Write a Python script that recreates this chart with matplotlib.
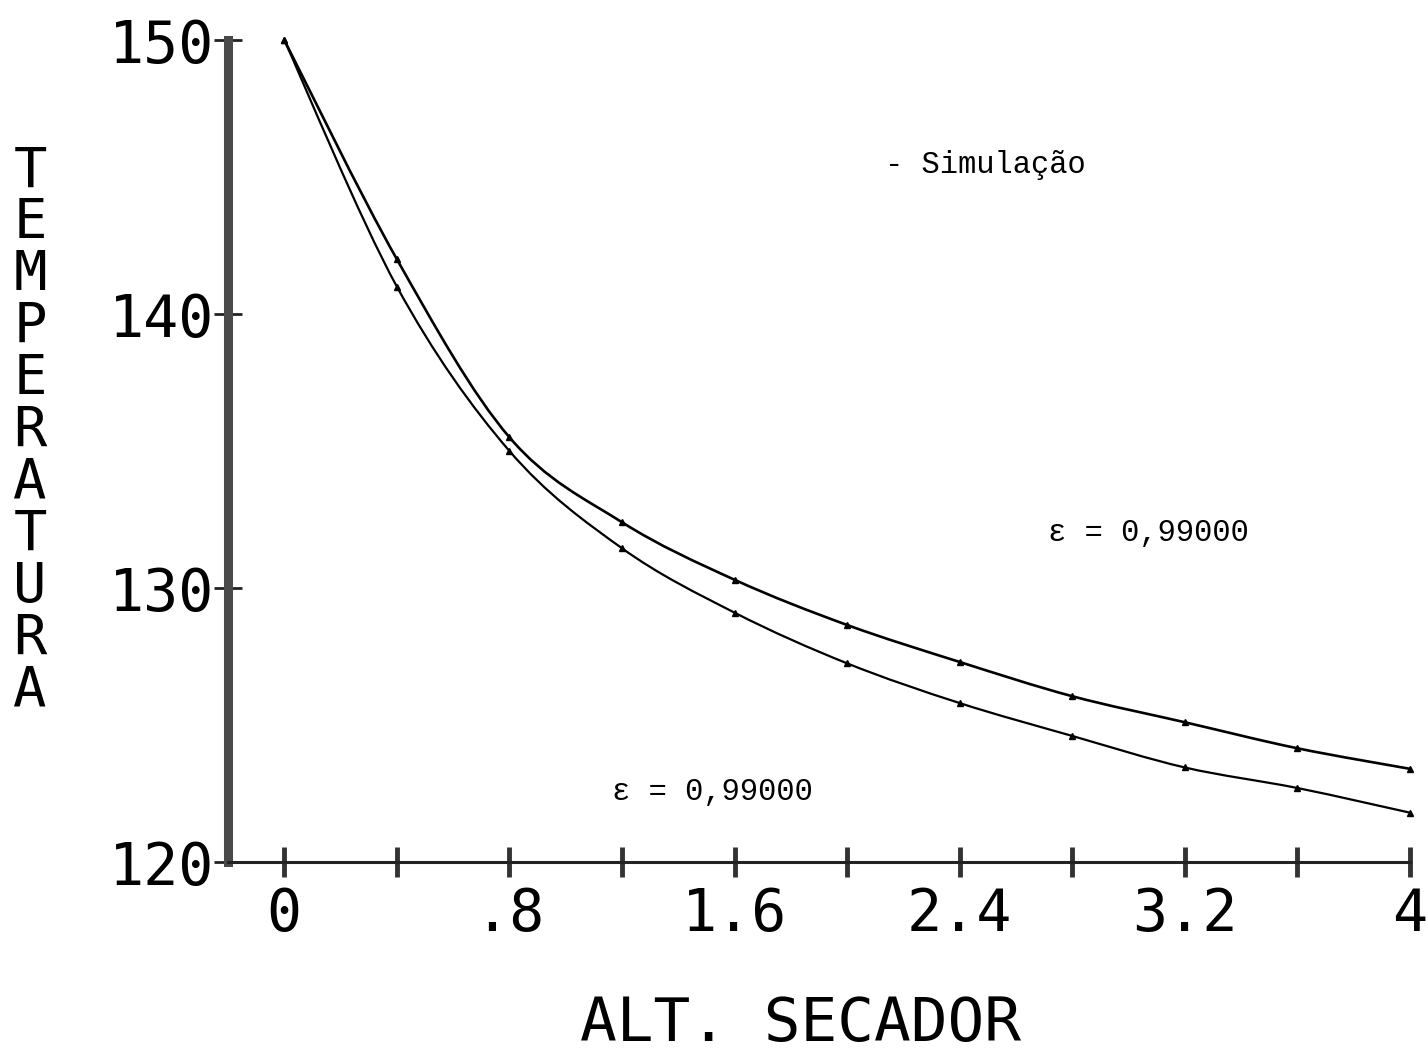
import matplotlib
matplotlib.use('Agg')
import matplotlib.pyplot as plt
from matplotlib.path import Path
from matplotlib.patches import PathPatch

# data
alt_secador = [0.0, 0.4, 0.8, 1.2, 1.6, 2.0, 2.4, 2.8, 3.2, 3.6, 4.0]
temp_upper = [150.0, 142.0, 135.5, 132.4, 130.3, 128.65, 127.3, 126.05, 125.1, 124.15, 123.4]
temp_lower = [150.0, 141.0, 135.0, 131.45, 129.1, 127.25, 125.8, 124.6, 123.45, 122.7, 121.8]

x_ticks = [0.0, 0.4, 0.8, 1.2, 1.6, 2.0, 2.4, 2.8, 3.2, 3.6, 4.0]
x_ticklabels = ['0', '', '.8', '', '1.6', '', '2.4', '', '3.2', '', '4']
y_ticks = [120, 130, 140, 150]
y_ticklabels = ['120', '130', '140', '150']

x_title = 'ALT. SECADOR'
y_title = 'TEMPERATURA'
note_sim = '- Simulação'
note_eps = 'ε = 0,99000'


def smooth_path(xs, ys):
    """Catmull-Rom curve through the points, as cubic Bezier segments."""
    pts = list(zip(xs, ys))
    verts = [pts[0]]
    codes = [Path.MOVETO]
    n = len(pts)
    for i in range(n - 1):
        p0 = pts[max(i - 1, 0)]
        p1 = pts[i]
        p2 = pts[i + 1]
        p3 = pts[min(i + 2, n - 1)]
        c1 = (p1[0] + (p2[0] - p0[0]) / 6, p1[1] + (p2[1] - p0[1]) / 6)
        c2 = (p2[0] - (p3[0] - p1[0]) / 6, p2[1] - (p3[1] - p1[1]) / 6)
        verts += [c1, c2, p2]
        codes += [Path.CURVE4] * 3
    return Path(verts, codes)


W, H = 1428, 1052
fig = plt.figure(figsize=(W / 100, H / 100), dpi=100)
fig.patch.set_facecolor('white')
left, right, bottom, top = 228 / W, 1410 / W, 1 - 862 / H, 1 - 40 / H
ax = fig.add_axes([left, bottom, right - left, top - bottom])
ax.set_facecolor('white')

mono = 'DejaVu Sans Mono'
for ys, lw in ((temp_upper, 1.9), (temp_lower, 1.6)):
    ax.add_patch(PathPatch(smooth_path(alt_secador, ys), facecolor='none',
                           edgecolor='black', lw=lw, clip_on=False))
    ax.plot(alt_secador, ys, linestyle='none', color='black', marker='^', ms=5, clip_on=False)

ax.set_xlim(-0.2, 4.0)
ax.set_ylim(120, 150)

for s in ['top', 'right']:
    ax.spines[s].set_visible(False)
ax.spines['left'].set_linewidth(6.5)
ax.spines['left'].set_color('#4a4a4a')
ax.spines['bottom'].set_linewidth(2.2)
ax.spines['bottom'].set_color('#222222')

ax.set_xticks(x_ticks)
ax.set_xticklabels(x_ticklabels, family=mono, fontsize=42)
ax.set_yticks(y_ticks)
ax.set_yticklabels(y_ticklabels, family=mono, fontsize=42)
ax.tick_params(axis='x', direction='inout', length=22, width=3.5, color='#333333', pad=6)
ax.tick_params(axis='y', direction='inout', length=20, width=2, color='#222222', pad=0)

ax.text(2.135, 145.44, note_sim, family='Liberation Mono', fontsize=22, va='center', ha='left')
ax.text(2.715, 132.0, note_eps, family='Liberation Mono', fontsize=22, va='center', ha='left')
ax.text(1.164, 122.55, note_eps, family='Liberation Mono', fontsize=22, va='center', ha='left')

fig.text(800 / W, 1 - 1025 / H, x_title, family=mono, fontsize=44, ha='center', va='center')
fig.text(30 / W, 1 - 431 / H, '\n'.join(y_title), family=mono, fontsize=40,
         ha='center', va='center', linespacing=0.95)

fig.savefig('out.png', dpi=100, facecolor='white')
